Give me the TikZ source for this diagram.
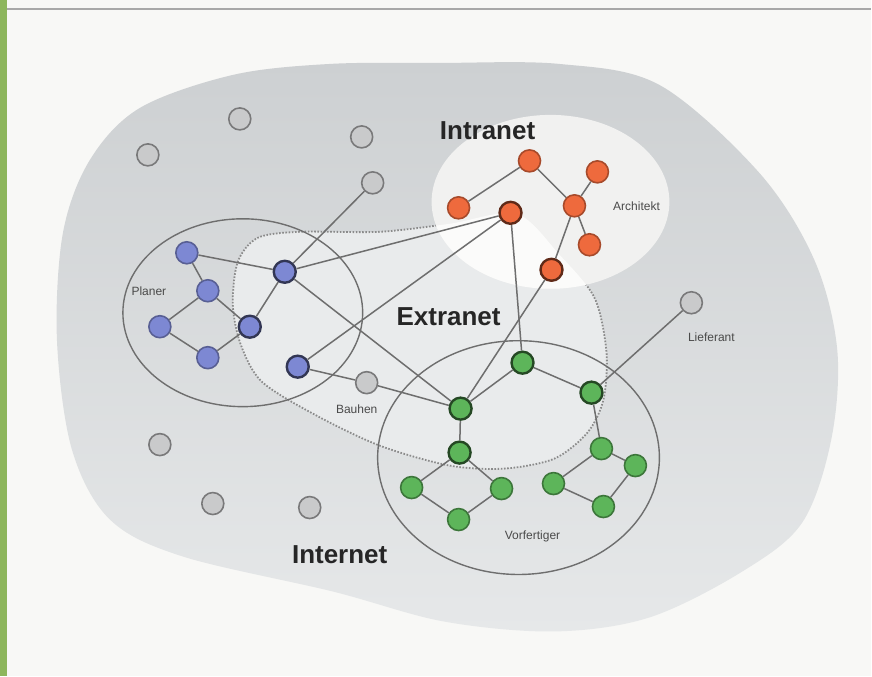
\documentclass[tikz,border=0pt]{standalone}
\usepackage{fontspec}
\setmainfont{Liberation Sans}
\usetikzlibrary{positioning}
\definecolor{netPaper}{HTML}{F8F8F6}
\definecolor{netFrame}{HTML}{8DB65C}
\definecolor{netRule}{HTML}{A8A8A8}
\definecolor{netCloud}{HTML}{CDD0D2}
\definecolor{netCloudLow}{HTML}{E6E8E9}
\definecolor{netExtra}{HTML}{E9EBEC}
\definecolor{netIntra}{HTML}{F1F1F0}
\definecolor{netLine}{HTML}{6E6E6E}
\definecolor{netBlue}{HTML}{7D88D3}
\definecolor{netOrange}{HTML}{EE6A3D}
\definecolor{netGreen}{HTML}{5DB55A}
\definecolor{netGrey}{HTML}{C9CACB}
\definecolor{netText}{HTML}{4A4A4A}
\tikzset{
  host/.style={circle, minimum size=11pt, inner sep=0pt, line width=0.8pt},
  planer/.style={host, fill=netBlue, draw=netBlue!70!black},
  archi/.style={host, fill=netOrange, draw=netOrange!70!black},
  vorf/.style={host, fill=netGreen, draw=netGreen!65!black},
  inet/.style={host, fill=netGrey, draw=netGrey!60!black},
  ext/.style={draw=#1!40!black, line width=1.2pt},
  link/.style={draw=netLine, line width=0.75pt},
  group/.style={draw=netLine, line width=0.7pt},
  fence/.style={draw=netLine!80, line width=0.9pt, dash pattern=on 0.8pt off 0.8pt},
  zone/.style={font=\bfseries\fontsize{13}{15}\selectfont, text=black!85},
  lbl/.style={font=\fontsize{6}{7}\selectfont, text=netText},
}
\newcommand{\extraline}{(517,214) (450,224) (380,232) (300,232) (258,238) (238,262)
  (233,305) (241,345) (262,382) (315,415) (380,446) (450,466) (505,469) (555,459)
  (588,433) (604,400) (607,352) (595,298) (560,255)}

\begin{document}
\begin{tikzpicture}[x=0.5pt,y=-0.5pt]
    \fill[netPaper] (0,0) rectangle (872,677);
    \fill[netFrame] (0,0) rectangle (7,677);
    \draw[netRule, line width=0.8pt] (7,9) -- (872,9);

    \shade[top color=netCloud, bottom color=netCloudLow] plot[smooth cycle, tension=0.55] coordinates {
      (440,63) (560,64) (660,85) (760,173) (815,260) (838,350) (832,440) (803,523)
      (743,572) (650,618) (555,632) (444,622) (333,592) (183,557) (110,520) (72,450)
      (57,340) (63,233) (90,160) (140,108) (233,75) (330,64)};
    \path[fill=netExtra, fence] plot[smooth cycle, tension=0.5] coordinates {\extraline};
    \fill[netIntra] (551,202) ellipse [x radius=119, y radius=87];
    \begin{scope}
      \clip (551,202) ellipse [x radius=119, y radius=87];
      \fill[white!70!netIntra] plot[smooth cycle, tension=0.5] coordinates {\extraline};
    \end{scope}
    \draw[group] (243,313) ellipse [x radius=120, y radius=94];
    \draw[group] (519,458) ellipse [x radius=141, y radius=117];

    \node[inet] (i1) at (148,155) {};
    \node[inet] (i2) at (240,119) {};
    \node[inet] (i3) at (362,137) {};
    \node[inet] (i4) at (373,183) {};
    \node[inet] (i5) at (160,445) {};
    \node[inet] (i6) at (213,504) {};
    \node[inet] (i7) at (310,508) {};
    \node[inet] (bauhen) at (367,383) {};
    \node[inet] (lief) at (692,303) {};

    \node[planer] (p1) at (187,253) {};
    \node[planer,ext=netBlue] (p2) at (285,272) {};
    \node[planer] (p3) at (208,291) {};
    \node[planer] (p4) at (160,327) {};
    \node[planer,ext=netBlue] (p5) at (250,327) {};
    \node[planer] (p6) at (208,358) {};
    \node[planer,ext=netBlue] (p7) at (298,367) {};

    \node[archi] (a1) at (530,161) {};
    \node[archi] (a2) at (459,208) {};
    \node[archi,ext=netOrange] (a3) at (511,213) {};
    \node[archi] (a4) at (598,172) {};
    \node[archi] (a5) at (575,206) {};
    \node[archi] (a6) at (590,245) {};
    \node[archi,ext=netOrange] (a7) at (552,270) {};

    \node[vorf,ext=netGreen] (v1) at (523,363) {};
    \node[vorf,ext=netGreen] (v2) at (461,409) {};
    \node[vorf,ext=netGreen] (v3) at (592,393) {};
    \node[vorf,ext=netGreen] (v4) at (460,453) {};
    \node[vorf] (v5) at (412,488) {};
    \node[vorf] (v6) at (502,489) {};
    \node[vorf] (v7) at (459,520) {};
    \node[vorf] (v8) at (602,449) {};
    \node[vorf] (v9) at (636,466) {};
    \node[vorf] (v10) at (554,484) {};
    \node[vorf] (v11) at (604,507) {};

    \foreach \a/\b in {p1/p3,p1/p2,p3/p4,p3/p5,p4/p6,p6/p5,p5/p2,p2/i4,p2/a3,p2/v2,
                       p7/a3,p7/bauhen,bauhen/v2,a1/a2,a1/a5,a5/a4,a5/a6,a5/a7,a7/v2,a3/v1,
                       v1/v2,v1/v3,v2/v4,v4/v5,v4/v6,v5/v7,v6/v7,v3/v8,v8/v9,v8/v10,
                       v10/v11,v9/v11,v3/lief}
      \draw[link] (\a) -- (\b);

    \node[zone] at (488,131) {Intranet};
    \node[zone] at (449,317) {Extranet};
    \node[zone] at (340,555) {Internet};
    \node[lbl,left=4mm of p3] {Planer};
    \node[lbl,right=3.5mm of a5] {Architekt};
    \node[lbl,below=0.5mm of bauhen,xshift=-5pt] {Bauhen};
    \node[lbl,below=2mm of lief,xshift=10pt] {Lieferant};
    \node[lbl] at (533,537) {Vorfertiger};
\end{tikzpicture}
\end{document}
